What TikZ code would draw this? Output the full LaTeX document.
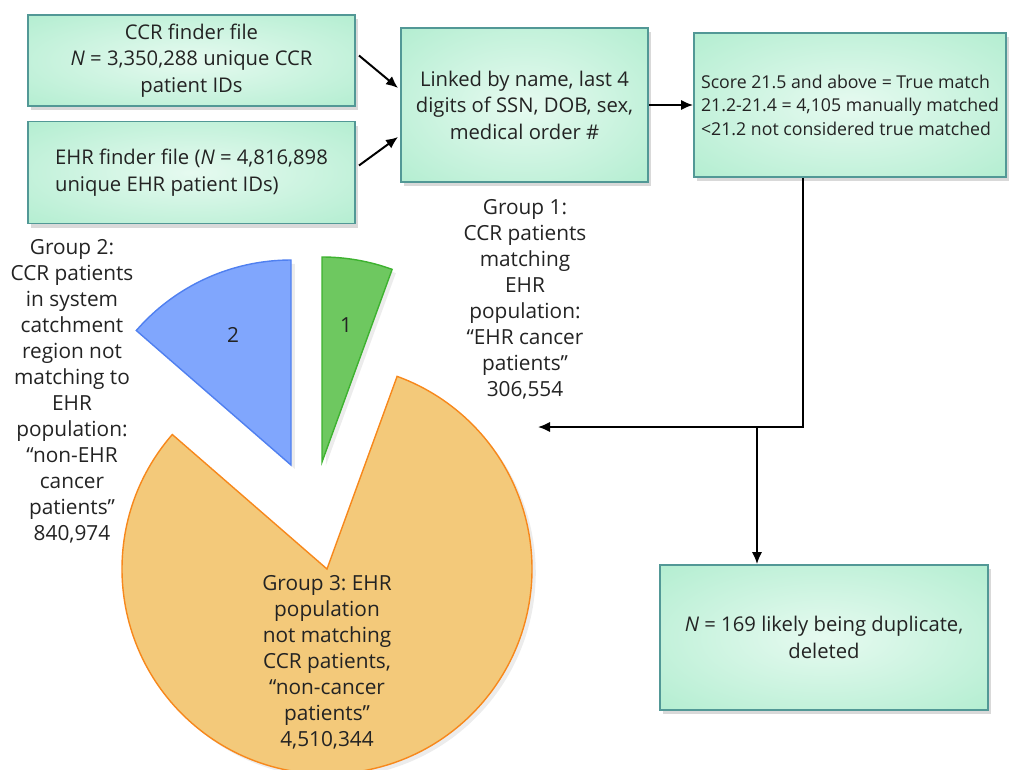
\documentclass[tikz,border=0pt]{standalone}
\usepackage{fontspec}
\setmainfont{Open Sans}
\usepackage{tikz}
\usetikzlibrary{calc, shadows}
\usetikzlibrary{arrows.meta}
\tikzset{>={Latex[width=2.6mm,length=3mm]}}
\frenchspacing
\definecolor{boxin}{RGB}{230,250,240}
\definecolor{boxout}{RGB}{152,231,192}
\definecolor{boxline}{RGB}{82,152,150}
\definecolor{inktext}{RGB}{35,35,35}
\definecolor{bluefill}{RGB}{128,166,253}
\definecolor{blueline}{RGB}{80,128,240}
\definecolor{greenfill}{RGB}{110,200,96}
\definecolor{greenline}{RGB}{62,178,48}
\definecolor{orangefill}{RGB}{243,201,122}
\definecolor{orangeline}{RGB}{247,136,28}
\pgfdeclareradialshading{boxglow}{\pgfpoint{0bp}{0bp}}{color(0bp)=(boxin); color(55bp)=(boxout); color(80bp)=(boxout)}
\tikzset{
  flowbox/.style={draw=boxline, line width=1.3pt, inner sep=0pt, shading=boxglow,
    drop shadow={opacity=0.3, shadow xshift=2pt, shadow yshift=-3pt},
    align=center, text=inktext, font=\fontsize{14.4}{18.8}\selectfont},
  grouptext/.style={align=center, text=inktext, font=\fontsize{14.8}{18.5}\selectfont},
  flowline/.style={line width=1.4pt, ->},
}

\begin{document}
\begin{tikzpicture}[x=0.025cm, y=-0.025cm]
    \useasboundingbox (0,0) rectangle (1010,769);
    % boxes
    \node[flowbox, minimum width=8.175cm, minimum height=2.275cm] (ccr) at (191.5,60.5)
      {CCR finder file\\\textit{N} = 3,350,288 unique CCR\\patient IDs};
    \node[flowbox, align=left, minimum width=8.175cm, minimum height=2.55cm] (ehr) at (191.5,172.5)
      {EHR finder file (\textit{N} = 4,816,898\\unique EHR patient IDs)};
    \node[flowbox, minimum width=6.175cm, minimum height=3.85cm] (linked) at (524.5,105)
      {Linked by name, last 4\\digits of SSN, DOB, sex,\\medical order \#};
    \node[flowbox, align=left, minimum width=7.8cm, minimum height=3.6cm,
      font=\fontsize{12.6}{16.7}\selectfont] (score) at (850,105)
      {Score 21.5 and above = True match\\21.2-21.4 = 4,105 manually matched\\<21.2 not considered true matched};
    \node[flowbox, minimum width=8.2cm, minimum height=3.625cm] (dup) at (824,637.5)
      {\textit{N} = 169 likely being duplicate,\\deleted};

    % pie slices
    \draw[line width=1pt, draw=blueline, fill=bluefill, drop shadow={opacity=0.15}]
      (291,465) -- ++(-90:205) arc[start angle=-90, end angle=-139, radius=205] -- cycle;
    \draw[line width=1pt, draw=greenline, fill=greenfill, drop shadow={opacity=0.15}]
      (322,462) -- ++(-70:205) arc[start angle=-70, end angle=-90, radius=205] -- cycle;
    \draw[line width=1pt, draw=orangeline, fill=orangefill, drop shadow={opacity=0.15}]
      (327,569) -- ++(-139:205) arc[start angle=-139, end angle=-430, radius=205] -- cycle;
    \node[grouptext] (s2) at (233,335) {2};
    \node[grouptext] (s1) at (346,325) {1};

    % group labels
    \node[grouptext] (g1) at (525,299) {Group 1:\\CCR patients\\matching\\EHR\\population:\\“EHR cancer\\patients”\\306,554};
    \node[grouptext] (g2) at (72,391.5) {Group 2:\\CCR patients\\in system\\catchment\\region not\\matching to\\EHR\\population:\\“non-EHR\\cancer\\patients”\\840,974};
    \node[grouptext] (g3) at (327,662) {Group 3: EHR\\population\\not matching\\CCR patients,\\“non-cancer\\patients”\\4,510,344};

    % connectors
    \coordinate (bend) at (803,427);
    \coordinate (fork) at (757,427);
    \coordinate (g1end) at (538,427);
    \draw[flowline] ([shift={(3,-5)}]ccr.east) -- ([shift={(-2,-17)}]linked.west);
    \draw[flowline] ([shift={(3,-7)}]ehr.east) -- ([shift={(-2,32)}]linked.west);
    \draw[flowline] (linked.east) -- (score.west);
    \draw[flowline] (score.south -| bend) -- (bend) -- (g1end);
    \draw[flowline] (fork) -- (dup.north -| fork);
  \end{tikzpicture}
\end{document}
